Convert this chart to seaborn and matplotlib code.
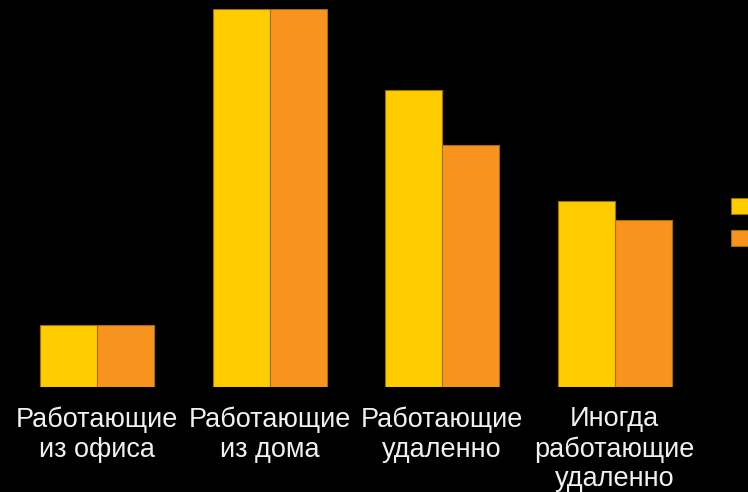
import matplotlib
matplotlib.use("Agg")
import matplotlib.pyplot as plt
import seaborn as sns
import pandas as pd

categories = ["Работающие\nиз офиса", "Работающие\nиз дома", "Работающие\nудаленно", "Иногда\nработающие\nудаленно"]
series_names = ["Серия 1", "Серия 2"]
series1 = [10, 61, 48, 30]
series2 = [10, 61, 39, 27]
colors = ["#FFCC00", "#F7931E"]

df = pd.DataFrame({
    "category": categories * 2,
    "series": [series_names[0]] * 4 + [series_names[1]] * 4,
    "value": series1 + series2,
})

sns.set_theme(style="dark")
plt.rcParams["font.family"] = ["Liberation Sans", "DejaVu Sans"]

fig = plt.figure(figsize=(7.48, 4.92), dpi=100, facecolor="black")
ax = fig.add_axes([11 / 748, (492 - 387) / 492, 690 / 748, (387 - 9) / 492])
ax.set_facecolor("black")

sns.barplot(data=df, x="category", y="value", hue="series", order=categories,
            hue_order=series_names, palette=colors, width=0.66, gap=0,
            saturation=1, edgecolor="#A07000", linewidth=0.8, ax=ax)

ax.set_ylim(0, 61)
ax.set_xlim(-0.5, 3.5)
ax.set_xlabel("")
ax.set_ylabel("")
ax.set_yticks([])
ax.tick_params(axis="x", length=0, pad=14, labelsize=19.5, colors="#F0F0F0")
for lab in ax.get_xticklabels():
    lab.set_linespacing(1.18)
for s in ax.spines.values():
    s.set_visible(False)
ax.grid(False)

leg = ax.get_legend()
handles = leg.legend_handles
leg.remove()
fig.legend(handles, ["", ""], loc="upper left",
           bbox_to_anchor=(731 / 748, (492 - 198) / 492),
           frameon=False, fontsize=13, handlelength=1.0, handleheight=1.0,
           handletextpad=0.5, labelspacing=0.75, borderpad=0, borderaxespad=0)

fig.savefig("out.png", dpi=100, facecolor="black")
